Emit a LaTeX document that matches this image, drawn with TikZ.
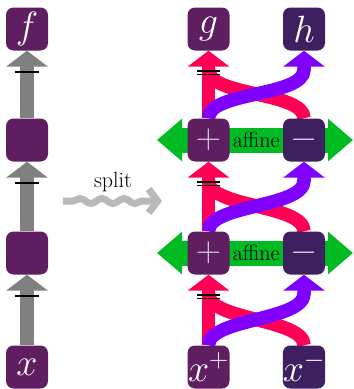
\RequirePackage{fix-cm}
\documentclass[tikz,border=0pt]{standalone}
\usepackage{fontspec}
\usetikzlibrary{arrows.meta,decorations.pathmorphing,calc,backgrounds}
\definecolor{plum}{RGB}{94,30,96}
\definecolor{dplum}{RGB}{62,32,96}
\definecolor{cred}{RGB}{255,0,85}
\definecolor{cpurp}{RGB}{128,0,255}
\definecolor{cgreen}{RGB}{0,187,34}
\definecolor{agray}{RGB}{128,128,128}
\definecolor{sgray}{RGB}{185,185,185}
\definecolor{opsym}{RGB}{215,205,222}
\begin{document}
\begin{tikzpicture}[x=1pt,y=-1pt,
  box/.style={rounded corners=7.5pt, minimum width=42pt, minimum height=43pt, inner sep=0pt,
    fill=plum, text=white, font=\fontsize{38}{46}\selectfont},
  dbox/.style={box, fill=dplum},
  opbox/.style={box, text=opsym, font=\fontsize{35}{42}\selectfont},
  dopbox/.style={opbox, fill=dplum},
  fat/.style={line width=13.5pt, -{Triangle[width=41pt,length=16pt]}},
  band/.style={line width=13.5pt},
  greenarrow/.style={cgreen, line width=25pt,
    {Triangle[width=41pt,length=25pt]}-{Triangle[width=41pt,length=25pt]}},
  tick/.style={black, line width=2.2pt},
  dtick/.style={black, line width=1.5pt},
  lbl/.style={font=\fontsize{22}{26}\selectfont, inner sep=0pt}
]
\useasboundingbox (0,0) rectangle (354,389);
% left column
\node[box] (f) at (27,29) {$f$};
\node[box] (b2) at (27,140) {};
\node[box] (b3) at (27,253) {};
\node[box] (x) at (27,367) {$x$};
% right column
\node[box] (g) at (208.5,29) {$g$};
\node[dbox] (h) at (304,29) {$h$};
\node[opbox] (p1) at (208.5,140) {$+$};
\node[dopbox] (m1) at (304,140) {$-$};
\node[opbox] (p2) at (208.5,253) {$+$};
\node[dopbox] (m2) at (304,253) {$-$};
\node[box] (xp) at (208.5,367) {$x^{+}$};
\node[dbox] (xm) at (304,367) {$x^{-}$};
% labels
\node[lbl] (a1) at ($(p1)!0.5!(m1)$) {affine};
\node[lbl] (a2) at ($(p2)!0.5!(m2)$) {affine};
\node[lbl] (sp) at (113,182) {split};
\coordinate (s1) at (63,201);
\coordinate (s2) at (162,201);

\begin{scope}[on background layer]
  % green affine arrows
  \draw[greenarrow] ($(p1.center)+(-51.5,0)$) -- ($(m1.center)+(49,0)$);
  \draw[greenarrow] ($(p2.center)+(-51.5,0)$) -- ($(m2.center)+(49,0)$);
  % gray arrows
  \draw[fat, agray] (x.north) -- (b3.south);
  \draw[fat, agray] (b3.north) -- (b2.south);
  \draw[fat, agray] (b2.north) -- (f.south);
  % coupling sections
  \foreach \ll/\lr/\ul/\ur in {xp/xm/p2/m2, p2/m2/p1/m1, p1/m1/g/h}{
    \draw[fat, cred] (\ll.north) -- (\ul.south);
    \draw[band, cred] (\lr.north) .. controls +(0,-27) and +(0,27) .. ($(\ul.south)+(0,19)$);
    \draw[fat, cpurp] (\ll.north) .. controls +(0,-27) and +(0,27) .. ($(\ur.south)+(0,19)$) -- (\ur.south);
  }
\end{scope}
% ticks
\foreach \n in {f,b2,b3}{
  \draw[tick] ($(\n.south)+(-12,21.5)$) -- ++(24,0);
}
\foreach \n in {g,p1,p2}{
  \draw[dtick] ($(\n.south)+(-11.5,20.5)$) -- ++(23,0);
  \draw[dtick] ($(\n.south)+(-11.5,23.8)$) -- ++(23,0);
}
% split arrow
\draw[sgray, line width=7pt, decorate,
  decoration={snake, amplitude=2.5pt, segment length=22pt, pre length=10pt, post length=14pt},
  -{Straight Barb[length=9pt,width=24pt]}] (s1) -- (s2);
\end{tikzpicture}
\end{document}
